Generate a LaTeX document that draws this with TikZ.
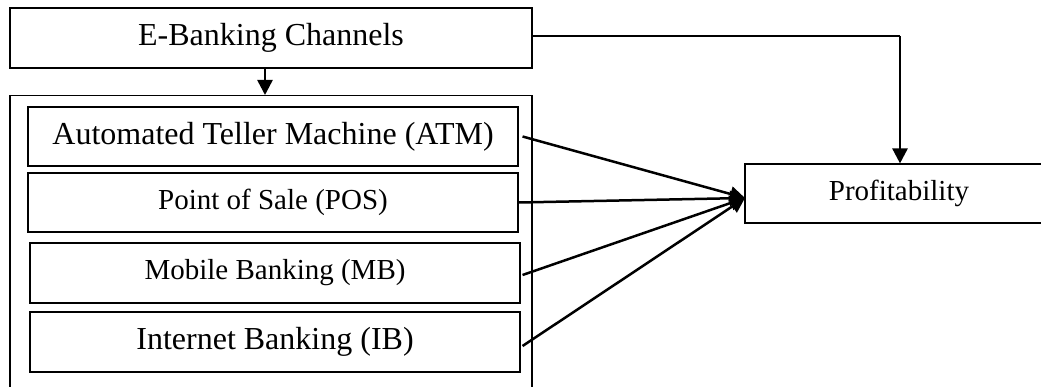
\documentclass[tikz,border=0pt]{standalone}
\usepackage{fontspec}
\setmainfont{Liberation Serif}
\usetikzlibrary{arrows.meta}
\begin{document}
\begin{tikzpicture}[x=1pt,y=-1pt,
  boxnode/.style={draw=black, line width=1.1pt, inner sep=0pt, fill=white},
  bigtext/.style={font=\fontsize{32}{38}\selectfont},
  midtext/.style={font=\fontsize{29}{35}\selectfont},
  arr/.style={line width=2.5pt, -{Triangle[length=15pt,width=15pt]}},
  plainline/.style={line width=1.1pt}]
\clip (0,0) rectangle (1041,387);
\fill[white] (0,0) rectangle (1041,387);
% group box (bottom edge lies below the page)
\node[boxnode, minimum width=522pt, minimum height=320pt, anchor=north] (group) at (271,95) {};
\node[boxnode, bigtext, minimum width=522pt, minimum height=60pt] (eb) at (271,38) {E-Banking Channels};
\node[boxnode, bigtext, minimum width=490pt, minimum height=59pt] (atm) at (273,136.5) {Automated Teller Machine (ATM)};
\node[boxnode, midtext, minimum width=490pt, minimum height=59pt] (pos) at (273,202.5) {Point of Sale (POS)};
\node[boxnode, midtext, minimum width=490pt, minimum height=60pt] (mb) at (275,273) {Mobile Banking (MB)};
\node[boxnode, bigtext, minimum width=490pt, minimum height=60pt] (ib) at (275,342) {Internet Banking (IB)};
\node[boxnode, midtext, minimum width=308pt, minimum height=59pt] (prof) at (899,193.5) {Profitability};
% connectors
\coordinate (conv) at (745,198);
\coordinate (turn) at (900,36);
\draw[arr] ([xshift=-6pt]eb.south) -- ([xshift=-6pt]group.north);
\draw[plainline] ([yshift=2pt]eb.east) -- (turn);
\draw[arr] (turn) -- (turn |- prof.north);
\draw[arr] ([xshift=4pt]atm.east) -- (conv);
\draw[arr] (pos.east) -- (conv);
\draw[arr] ([xshift=2pt,yshift=-2pt]mb.east) -- (conv);
\draw[arr] ([xshift=2pt,yshift=-4pt]ib.east) -- (conv);
\end{tikzpicture}
\end{document}
